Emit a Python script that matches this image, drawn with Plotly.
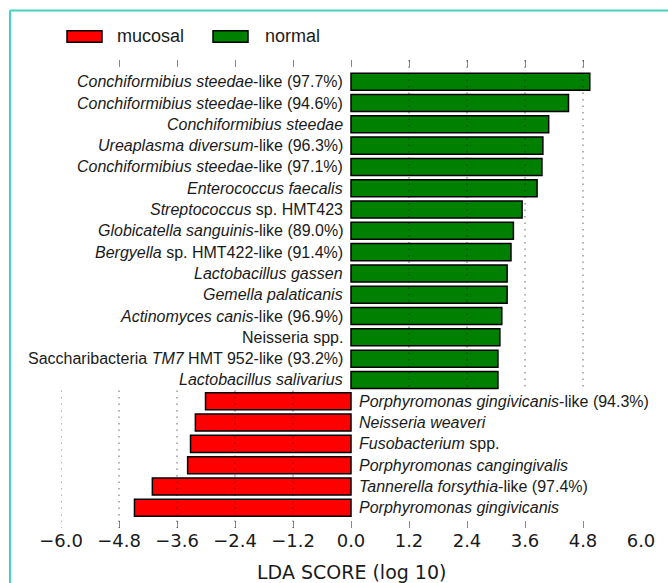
import plotly.graph_objects as go

# LEfSe result: taxa ordered top to bottom, LDA scores (log10), and class
taxa = [
    "<i>Conchiformibius steedae</i>-like (97.7%)",
    "<i>Conchiformibius steedae</i>-like (94.6%)",
    "<i>Conchiformibius steedae</i>",
    "<i>Ureaplasma diversum</i>-like (96.3%)",
    "<i>Conchiformibius steedae</i>-like (97.1%)",
    "<i>Enterococcus faecalis</i>",
    "<i>Streptococcus</i> sp. HMT423",
    "<i>Globicatella sanguinis</i>-like (89.0%)",
    "<i>Bergyella</i> sp. HMT422-like (91.4%)",
    "<i>Lactobacillus gassen</i>",
    "<i>Gemella palaticanis</i>",
    "<i>Actinomyces canis</i>-like (96.9%)",
    "Neisseria spp.",
    "Saccharibacteria <i>TM7</i> HMT 952-like (93.2%)",
    "<i>Lactobacillus salivarius</i>",
    "<i>Porphyromonas gingivicanis</i>-like (94.3%)",
    "<i>Neisseria weaveri</i>",
    "<i>Fusobacterium</i> spp.",
    "<i>Porphyromonas cangingivalis</i>",
    "<i>Tannerella forsythia</i>-like (97.4%)",
    "<i>Porphyromonas gingivicanis</i>",
]
lda = [4.94, 4.50, 4.09, 3.97, 3.95, 3.85, 3.54, 3.36, 3.31, 3.23, 3.23,
       3.12, 3.08, 3.04, 3.04,
       -3.01, -3.22, -3.32, -3.38, -4.11, -4.48]
group = ["normal"] * 15 + ["mucosal"] * 6

classes = ["mucosal", "normal"]
class_colors = {"mucosal": "#ff0000", "normal": "#008000"}
tick_vals = [-6.0, -4.8, -3.6, -2.4, -1.2, 0.0, 1.2, 2.4, 3.6, 4.8, 6.0]
tick_text = ["\u22126.0", "\u22124.8", "\u22123.6", "\u22122.4", "\u22121.2",
             "0.0", "1.2", "2.4", "3.6", "4.8", "6.0"]

W, H = 668, 583
ML, MR, MT, MB = 61, 27, 60, 55
PW, PH = W - ML - MR, H - MT - MB


def px_x(x):
    return (x - ML) / PW


def px_y(y):
    return (H - MB - y) / PH


rows = list(range(len(taxa)))
fig = go.Figure()
for cls in classes:
    idx = [i for i in rows if group[i] == cls]
    fig.add_trace(go.Bar(
        x=[lda[i] for i in idx], y=[rows[i] for i in idx],
        orientation="h", width=0.8,
        marker=dict(color=class_colors[cls], line=dict(color="black", width=1.5)),
        showlegend=False, hoverinfo="skip",
    ))

# dummy trace so the top axis is rendered
fig.add_trace(go.Scatter(x=[0], y=[0], xaxis="x2", mode="markers",
                         marker=dict(opacity=0), showlegend=False, hoverinfo="skip"))

n_pos = sum(1 for g in group if g == "normal")
split = n_pos - 0.5
grid_line = dict(color="rgba(0,0,0,0.4)", width=1.5, dash="1.5px,5px")
shapes = []
# dotted grid: right half inside the positive rows, left half inside the negative rows
for t in tick_vals:
    if 0 < t < 6:
        shapes.append(dict(type="line", xref="x", yref="y", x0=t, x1=t, y0=-1.02, y1=split,
                           line=grid_line, layer="above"))
    elif t < 0:
        shapes.append(dict(type="line", xref="x", yref="y", x0=t, x1=t, y0=split, y1=20.95,
                           line=grid_line, layer="above"))

# outer teal frame
shapes.append(dict(type="line", xref="paper", yref="paper",
                   x0=px_x(10), x1=px_x(700), y0=px_y(10.5), y1=px_y(10.5),
                   line=dict(color="#45d3c0", width=2)))
shapes.append(dict(type="line", xref="paper", yref="paper",
                   x0=px_x(10), x1=px_x(10), y0=px_y(10.5), y1=px_y(600),
                   line=dict(color="#45d3c0", width=2)))

annotations = []
# legend
legend_items = [("mucosal", 67, 115), ("normal", 213, 263)]
for cls, bx, tx in legend_items:
    shapes.append(dict(type="rect", xref="paper", yref="paper",
                       x0=px_x(bx), x1=px_x(bx + 35), y0=px_y(42.3), y1=px_y(30.7),
                       fillcolor=class_colors[cls], line=dict(color="black", width=1.5)))
    annotations.append(dict(xref="paper", yref="paper", x=px_x(tx), y=px_y(36),
                            text=cls, showarrow=False, xanchor="left", yanchor="middle",
                            font=dict(family="Liberation Sans", size=18, color="#1a1a1a")))

# taxon labels beside the zero line
for i in rows:
    right = lda[i] > 0
    annotations.append(dict(xref="x", yref="y", x=0, y=rows[i], text=taxa[i],
                            showarrow=False, xanchor="right" if right else "left",
                            yanchor="middle", xshift=-6 if right else 6,
                            font=dict(family="Liberation Sans", size=16, color="#1a1a1a")))

annotations.append(dict(xref="paper", yref="paper", x=0.5, y=px_y(572),
                        text="LDA SCORE (log 10)", showarrow=False,
                        xanchor="center", yanchor="middle",
                        font=dict(family="DejaVu Sans", size=19, color="#1a1a1a")))

axis_common = dict(range=[-6, 6], tickvals=tick_vals, ticks="inside", ticklen=7,
                   tickwidth=1, tickcolor="#888888", showgrid=False, zeroline=False,
                   showline=False)
fig.update_layout(
    width=W, height=H,
    margin=dict(l=ML, r=MR, t=MT, b=MB, pad=0),
    paper_bgcolor="white", plot_bgcolor="white",
    barmode="overlay",
    xaxis=dict(**axis_common, ticktext=tick_text,
               tickfont=dict(family="DejaVu Sans", size=18, color="#1a1a1a")),
    xaxis2=dict(**axis_common, overlaying="x", side="top", showticklabels=False),
    yaxis=dict(range=[20.95, -1.02], showticklabels=False, ticks="", showgrid=False,
               zeroline=False, showline=False),
    shapes=shapes, annotations=annotations,
)

fig.write_html("out.html")
